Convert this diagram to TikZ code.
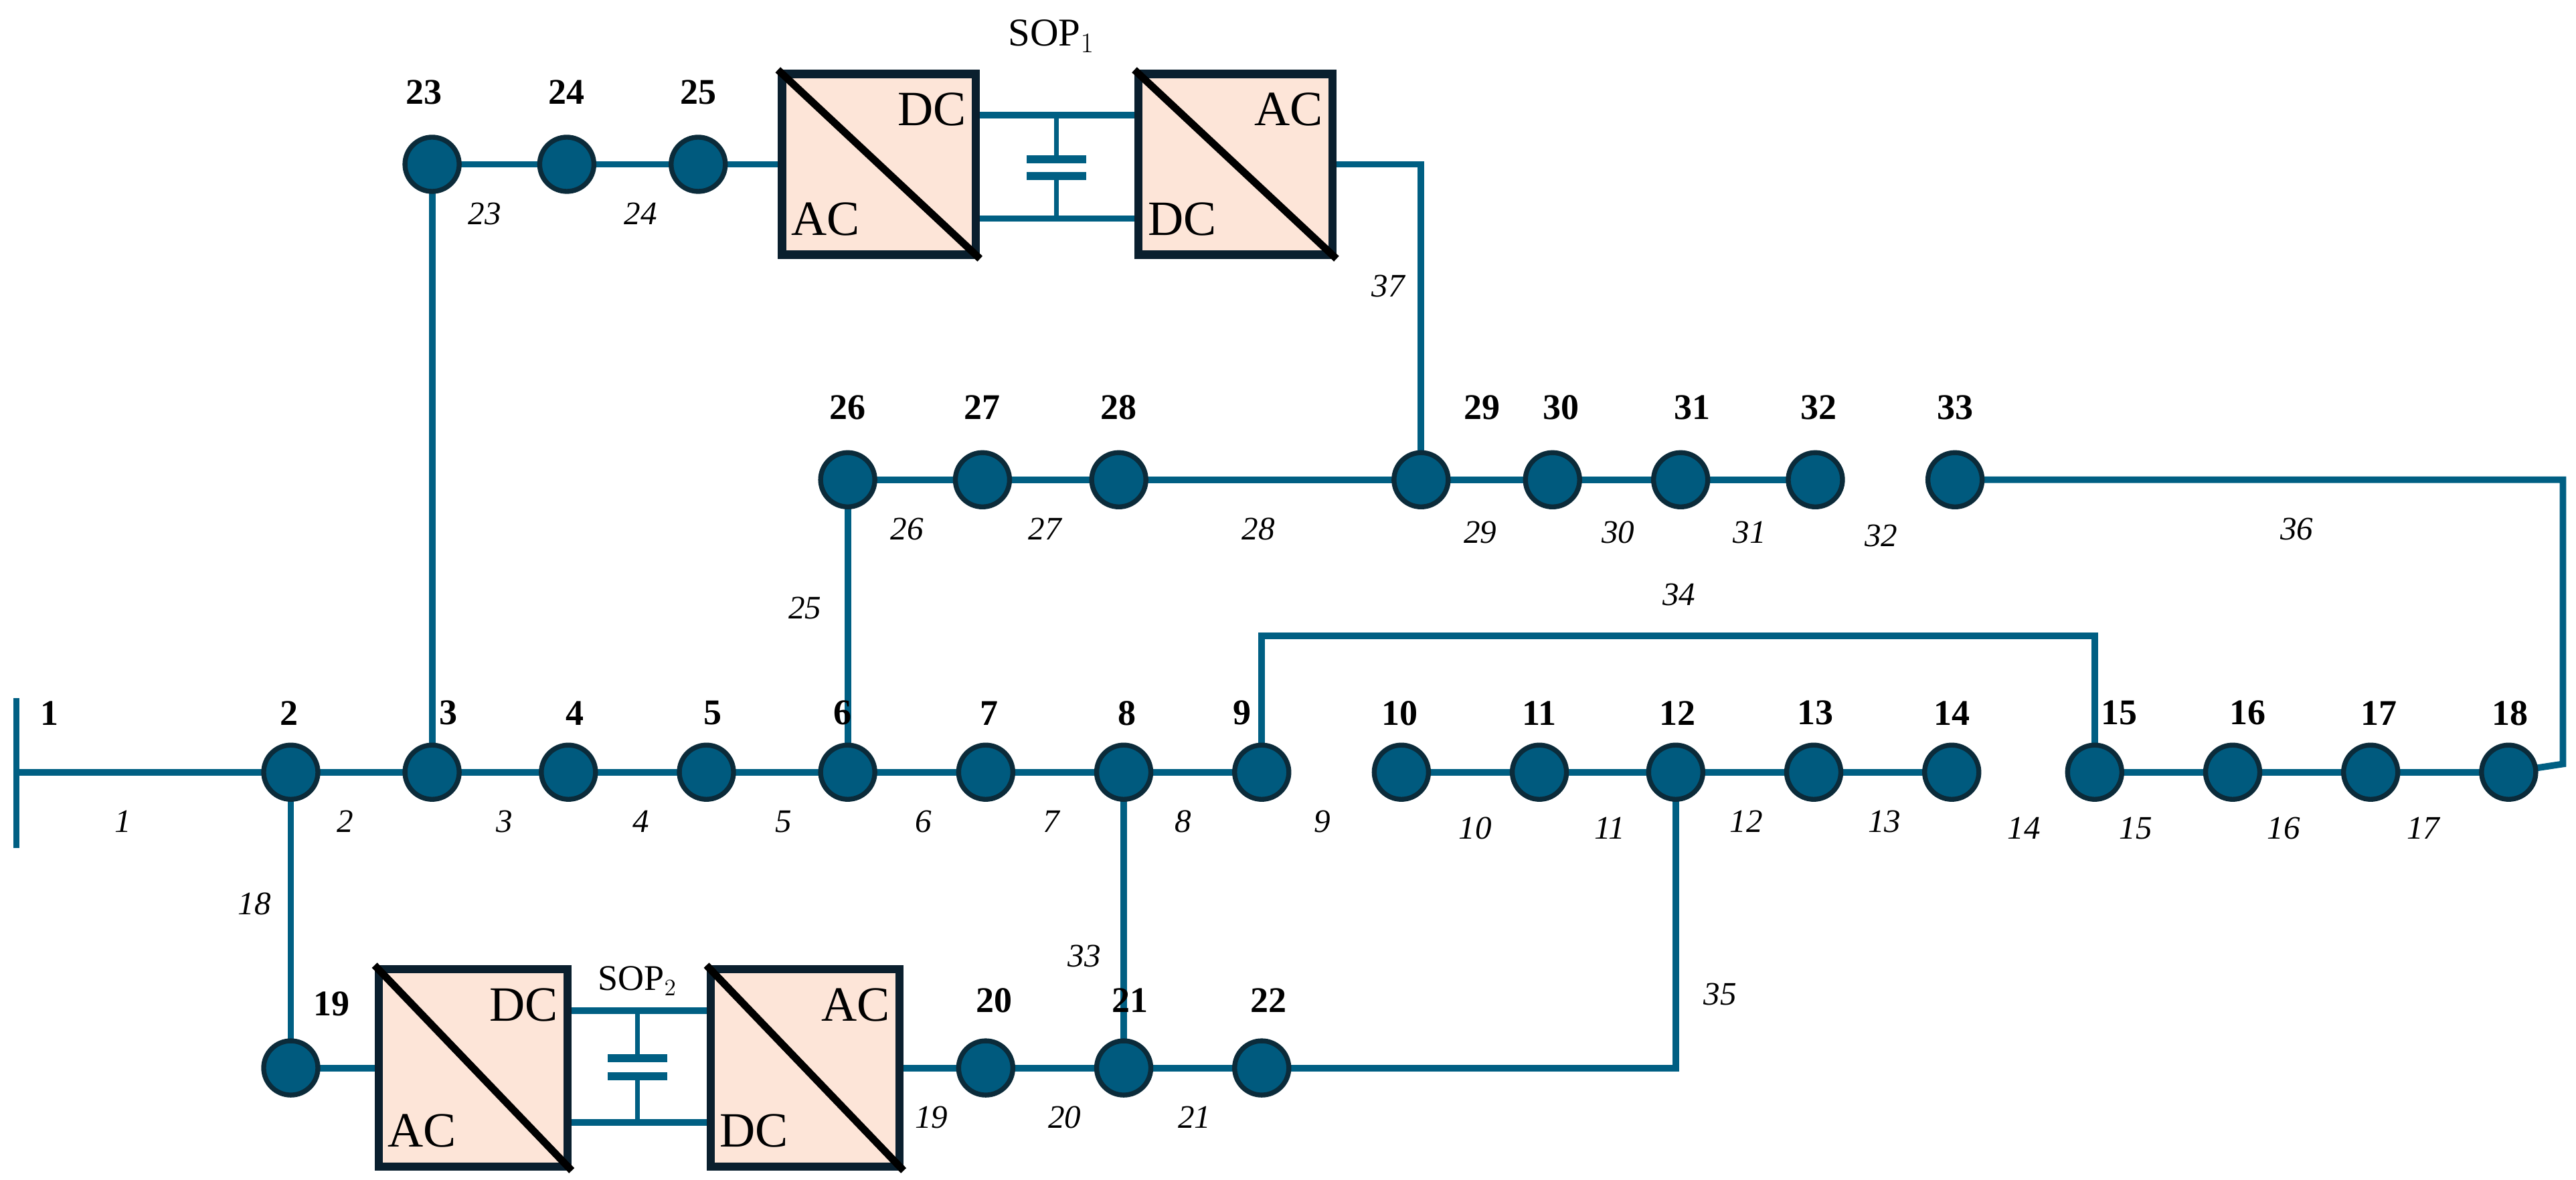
\documentclass[tikz,border=0pt]{standalone}
\usepackage{fontspec}
\setmainfont{Liberation Serif}
\begin{document}
\begin{tikzpicture}[x=1pt,y=-1pt,
  ln/.style={draw=lineblue,line width=4pt},
  bus/.style={circle,fill=busfill,draw=busdark,line width=3pt,minimum size=33pt,inner sep=0pt},
  bl/.style={font=\fontsize{22}{24}\selectfont\bfseries,inner sep=0pt},
  br/.style={font=\fontsize{20}{24}\selectfont\itshape,inner sep=0pt},
  conv/.style={draw=boxdark,fill=boxfill,line width=5pt,minimum width=118pt,minimum height=110pt,inner sep=0pt},
  ct/.style={font=\fontsize{30}{32}\selectfont,inner sep=0pt}]
\definecolor{lineblue}{HTML}{005F83}
\definecolor{busfill}{HTML}{005A7E}
\definecolor{busdark}{HTML}{0B2B3A}
\definecolor{boxfill}{HTML}{FDE5D8}
\definecolor{boxdark}{HTML}{0A1F2E}
\useasboundingbox (0,0) rectangle (1568,718);
% buses
\foreach \n/\x/\y in {2/177/470,3/263/470,4/346/470,5/430/470,6/516/470,7/600/470,8/684/470,9/768/470,10/853/470,11/937/470,12/1020/470,13/1104/470,14/1188/470,15/1275/470,16/1359/470,17/1443/470,18/1527/470,19/177/650,20/600/650,21/684/650,22/768/650,23/263/100,24/345/100,25/425/100,26/516/292,27/598/292,28/681/292,29/865/292,30/945/292,31/1023/292,32/1105/292,33/1190/292}
  \coordinate (c\n) at (\x,\y);
\coordinate (b1top) at (10,425); \coordinate (b1bot) at (10,516);
\coordinate (c1) at (10,470);
% converters
\node[conv] (s1a) at (535,100) {};
\node[conv] (s1b) at (752,100) {};
\node[conv,minimum width=115pt,minimum height=120pt] (s2a) at (288,650) {};
\node[conv,minimum width=115pt,minimum height=120pt] (s2b) at (490,650) {};
% lines
\draw[line width=4pt,draw=lineblue] (b1top) -- (b1bot);
\draw[ln] (c1) -- (c2);
\draw[ln] (c2) -- (c3) -- (c4) -- (c5) -- (c6) -- (c7) -- (c8) -- (c9);
\draw[ln] (c10) -- (c11) -- (c12) -- (c13) -- (c14);
\draw[ln] (c15) -- (c16) -- (c17) -- (c18);
\draw[ln] (c26) -- (c27) -- (c28) -- (c29) -- (c30) -- (c31) -- (c32);
\draw[ln] (c23) -- (c24) -- (c25) -- (s1a.west);
\draw[ln] (c3) -- (c23);
\draw[ln] (c6) -- (c26);
\draw[ln] (c2) -- (c19) -- (s2a.west);
\draw[ln] (s2b.east) -- (c20) -- (c21) -- (c22);
\draw[ln] (c8) -- (c21);
\draw[ln] (c22) -- (1020,650) -- (c12);
\draw[ln] (c9) -- (768,387) -- (1275,387) -- (c15);
\draw[ln] (c33) -- (1560,292) -- (1560,465) -- (c18);
\draw[ln] (s1b.east) -- (865,100) -- (c29);
% SOP1 dc link
\draw[ln] (s1a.east |- 0,70) -- (s1b.west |- 0,70);
\draw[ln] (s1a.east |- 0,133) -- (s1b.west |- 0,133);
\draw[ln,line width=3pt] (643,70) -- (643,97) (643,107) -- (643,133);
\draw[ln,line width=5pt] (625,97) -- (661,97) (625,107) -- (661,107);
% SOP2 dc link
\draw[ln] (s2a.east |- 0,615) -- (s2b.west |- 0,615);
\draw[ln] (s2a.east |- 0,683) -- (s2b.west |- 0,683);
\draw[ln,line width=3pt] (388,615) -- (388,644) (388,655) -- (388,683);
\draw[ln,line width=5pt] (370,644) -- (406,644) (370,655) -- (406,655);
% converter interiors
\foreach \b/\tl/\br in {s1a/DC/AC,s2a/DC/AC,s1b/AC/DC,s2b/AC/DC}{
  \draw[line width=4.5pt] (\b.north west) -- (\b.south east);
  \node[ct,anchor=north east] at ([xshift=-8pt,yshift=-14pt]\b.north east) {\tl};
  \node[ct,anchor=south west] at ([xshift=8pt,yshift=14pt]\b.south west) {\br};
}
\node[font=\fontsize{24}{26}\selectfont,inner sep=0pt] (sop1) at (640,22) {SOP$_1$};
\node[font=\fontsize{22}{24}\selectfont,inner sep=0pt] (sop2) at (388,597) {SOP$_2$};
% bus circles
\foreach \n in {2,...,33} \node[bus] (n\n) at (c\n) {};
% bus labels
\foreach \n/\x/\y in {1/30/434,2/176/434,3/273/434,4/350/434,5/434/434,6/513/434,7/602/434,8/686/434,9/756/434,10/852/434,11/937/434,12/1021/434,13/1105/434,14/1188/434,15/1290/434,16/1368/434,17/1448/434,18/1528/434,19/202/611,20/605/609,21/688/609,22/772/609,23/258/56,24/345/56,25/425/56,26/516/248,27/598/248,28/681/248,29/902/248,30/950/248,31/1030/248,32/1107/248,33/1190/248}
  \node[bl] (l\n) at (\x,\y) {\n};
% branch labels
\foreach \n/\x/\y in {1/75/500,2/210/500,3/307/500,4/390/500,5/477/500,6/562/500,7/640/500,8/720/500,9/805/500,10/898/504,11/980/504,12/1063/500,13/1147/500,14/1232/504,15/1300/504,16/1390/504,17/1475/504,18/155/550,19/567/680,20/648/680,21/727/680,23/295/130,24/390/130,25/490/370,26/552/322,27/636/322,28/766/322,29/901/324,30/985/324,31/1065/324,32/1145/326,33/660/582,34/1022/362,35/1047/605,36/1398/322,37/845/174}
  \node[br] (k\n) at (\x,\y) {\n};
\end{tikzpicture}
\end{document}
